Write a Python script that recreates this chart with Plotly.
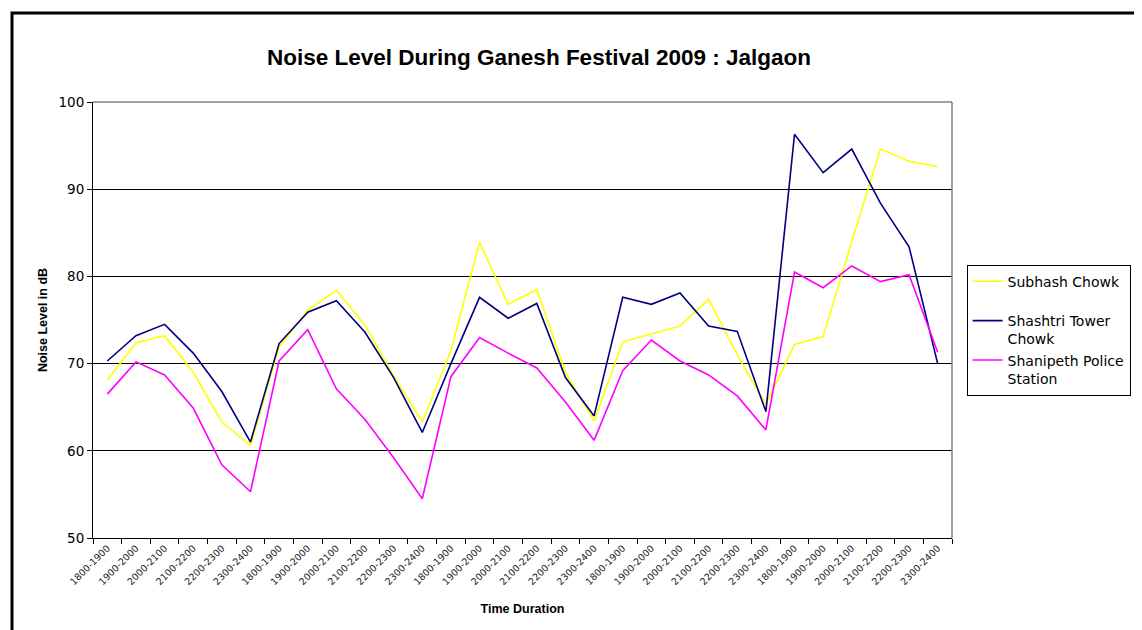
import plotly.graph_objects as go

time_slots = ["1800-1900", "1900-2000", "2000-2100", "2100-2200", "2200-2300", "2300-2400"] * 5

subhash_chowk = [68.1, 72.4, 73.2, 69.0, 63.3, 60.6,
                 71.9, 76.1, 78.4, 74.4, 68.6, 63.3,
                 71.5, 83.9, 76.8, 78.5, 69.0, 63.4,
                 72.5, 73.4, 74.3, 77.4, 71.0, 65.3,
                 72.2, 73.1, 84.0, 94.6, 93.2, 92.6]
shashtri_tower = [70.3, 73.2, 74.5, 71.2, 66.8, 61.0,
                  72.3, 75.9, 77.2, 73.6, 68.4, 62.1,
                  70.0, 77.6, 75.2, 76.9, 68.4, 64.0,
                  77.6, 76.8, 78.1, 74.3, 73.7, 64.5,
                  96.3, 91.9, 94.6, 88.4, 83.4, 70.0]
shanipeth_police = [66.5, 70.2, 68.7, 64.9, 58.4, 55.3,
                    70.3, 73.9, 67.1, 63.6, 59.2, 54.5,
                    68.5, 73.0, 71.2, 69.5, 65.6, 61.2,
                    69.2, 72.7, 70.3, 68.7, 66.3, 62.4,
                    80.5, 78.7, 81.2, 79.4, 80.2, 71.3]

y_ticks = [50, 60, 70, 80, 90, 100]

x_idx = list(range(len(time_slots)))

fig = go.Figure()
series = [
    ("Subhash Chowk<br> ", subhash_chowk, "#FFFF00"),
    ("Shashtri Tower<br>Chowk", shashtri_tower, "#000080"),
    ("Shanipeth Police<br>Station", shanipeth_police, "#FF00FF"),
]
for name, vals, col in series:
    fig.add_trace(go.Scatter(x=x_idx, y=vals, mode="lines", name=name,
                             line=dict(color=col, width=1.6)))

fig.update_layout(
    width=1142, height=630,
    margin=dict(l=85, r=198, t=94, b=100),
    paper_bgcolor="white", plot_bgcolor="white",
    title=dict(text="<b>Noise Level During Ganesh Festival 2009 : Jalgaon</b>",
               x=0.465, xanchor="center", y=0.922, yanchor="middle",
               font=dict(family="Liberation Sans", size=22.5, color="black")),
    font=dict(family="DejaVu Sans", color="black"),
    legend=dict(x=1.017, xanchor="left", y=0.627, yanchor="top",
                bordercolor="black", borderwidth=1, bgcolor="white",
                font=dict(family="DejaVu Sans", size=14, color="black"),
                valign="top", tracegroupgap=0, itemwidth=30),
    showlegend=True,
)

fig.update_xaxes(
    range=[-0.5, len(time_slots) - 0.5],
    tickmode="array", tickvals=x_idx, ticktext=time_slots,
    tickangle=-45, ticks="", showgrid=False,
    tickfont=dict(family="DejaVu Sans", size=9.5, color="#222222"),
    showline=True, linecolor="black", linewidth=1,
    minor=dict(tickmode="array", tickvals=[i - 0.5 for i in range(len(time_slots) + 1)],
               ticks="outside", ticklen=5, tickcolor="black", showgrid=False),
    title=dict(text="<b>Time Duration</b>", standoff=18,
               font=dict(family="Liberation Sans", size=12.5, color="black")),
    zeroline=False,
)
fig.update_yaxes(
    range=[50, 100], tickmode="array", tickvals=y_ticks,
    ticks="outside", ticklen=5, tickcolor="black",
    tickfont=dict(family="DejaVu Sans", size=13.5, color="black"),
    showgrid=True, gridcolor="black", gridwidth=1,
    showline=True, linecolor="black", linewidth=1,
    title=dict(text="<b>Noise Level in dB</b>", standoff=8,
               font=dict(family="Liberation Sans", size=12.5, color="black")),
    zeroline=False,
)

# gray plot-area frame on top and right
fig.add_shape(type="line", xref="paper", yref="paper", x0=0, x1=1, y0=1, y1=1,
              line=dict(color="#808080", width=1.5))
fig.add_shape(type="line", xref="paper", yref="paper", x0=1, x1=1, y0=0, y1=1,
              line=dict(color="#808080", width=1.5))
# outer chart border
fig.add_shape(type="rect", xref="paper", yref="paper",
              x0=-81 / 859, x1=1.4, y0=-0.5, y1=525 / 436,
              line=dict(color="black", width=3), fillcolor="rgba(0,0,0,0)")

fig.write_html("out.html")
